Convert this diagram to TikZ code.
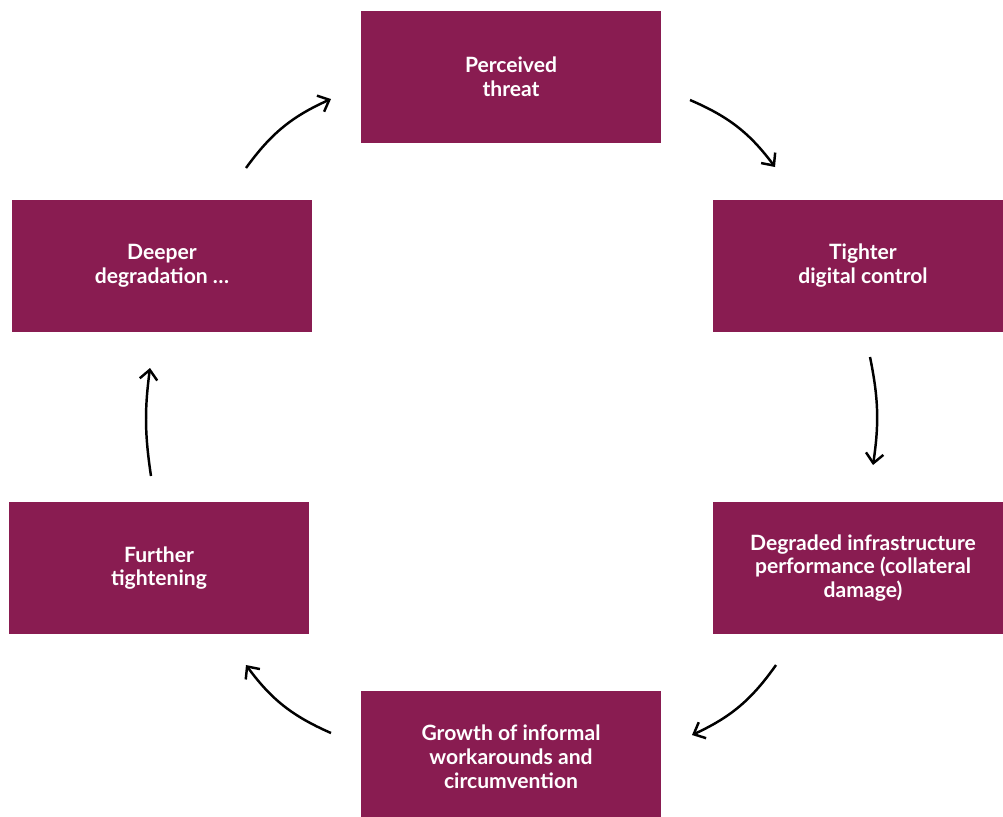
\documentclass[tikz,border=0pt]{standalone}
\usepackage{fontspec}
\setmainfont{Lato}
\usepackage{xcolor}
\usepackage{tikz}
\usetikzlibrary{arrows.meta}
\definecolor{plum}{HTML}{891C51}

\begin{document}
\begin{tikzpicture}[
  x=0.02cm, y=-0.02cm,
  box/.style={rectangle, fill=plum, inner sep=0pt,
              minimum width=6cm, minimum height=2.64cm,
              font=\fontsize{12}{13.6}\selectfont\bfseries, text=white, align=center},
  arr/.style={-{Straight Barb[length=5.5pt,width=10pt]}, line width=1.4pt, color=black},
]
  \useasboundingbox (0,0) rectangle (1003,816);
  \node[box](threat) at (511,77){Perceived\\threat};
  \node[box](ctrl) at (863,266){Tighter\\digital control};
  \node[box](degr) at (863,568){Degraded infrastructure\\performance (collateral\\damage)};
  \node[box](growth) at (511,757){Growth of informal\\workarounds and\\circumvention};
  \node[box](tight) at (159,568){Further\\tightening};
  \node[box](deeper) at (162,266){Deeper\\degradation \dots};
  % arrow ends, kept clear of the boxes
  \coordinate (a1) at (690,100); \coordinate (b1) at (775,167);
  \coordinate (a2) at (870,357); \coordinate (b2) at (873,465);
  \coordinate (a3) at (776,665); \coordinate (b3) at (692,735);
  \coordinate (a4) at (331,733); \coordinate (b4) at (246,665);
  \coordinate (a5) at (151,476); \coordinate (b5) at (150,368);
  \coordinate (a6) at (246,168); \coordinate (b6) at (331,99);
  \foreach \i/\b in {1/15,2/10,3/15,4/15,5/8,6/15}
    \draw[arr](a\i) to[bend left=\b] (b\i);
\end{tikzpicture}
\end{document}
